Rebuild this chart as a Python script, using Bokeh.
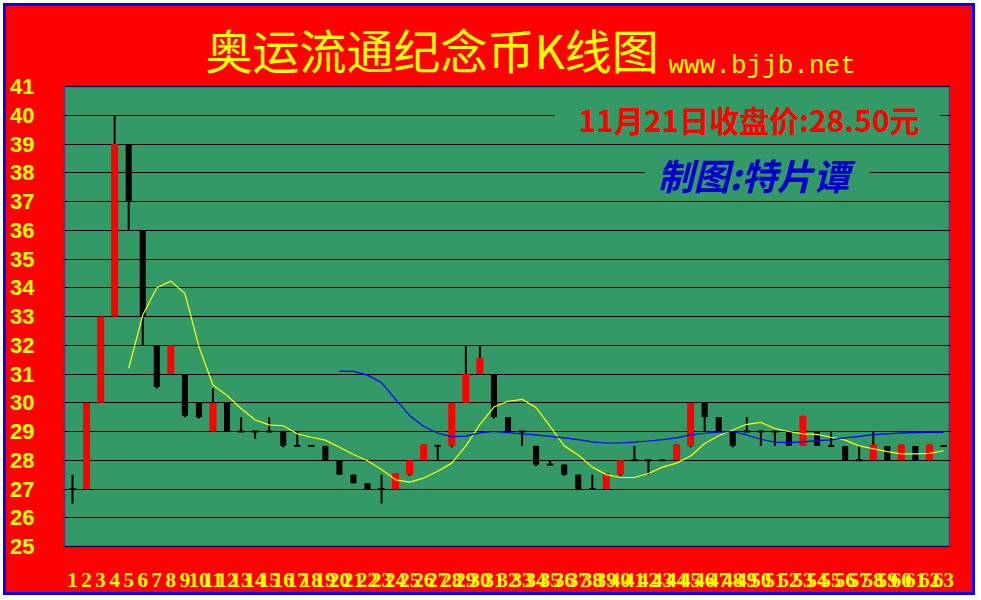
from bokeh.plotting import figure
from bokeh.layouts import column
from bokeh.models import Range1d, FixedTicker, Label, BoxAnnotation, ColumnDataSource
from bokeh.embed import file_html
from bokeh.resources import INLINE

# ---------------- data ----------------
days = list(range(1, 64))
opens = [27, 27, 30, 33, 39, 36, 32, 31, 31, 30,
         29, 30, 29, 29, 29, 29, 28.5, 28.5, 28.5, 28,
         27.5, 27.2, 27, 27, 27.5, 28, 28.5, 28.5, 30, 31,
         31, 29.5, 29, 28.5, 27.85, 27.85, 27.5, 27, 27, 27.5,
         28, 28, 28, 28, 28.5, 30, 29.5, 29, 29, 29,
         29, 29, 28.5, 29, 28.5, 28.5, 28, 28, 28.5, 28,
         28.5, 28, 28.5]
highs = [27.5, 30, 33, 40, 39, 36, 32, 32, 31, 30,
         30.5, 30, 29.5, 29, 29.5, 29, 29, 28.5, 28.5, 28,
         27.5, 27.2, 27.5, 27.55, 28, 28.55, 28.5, 30, 32, 32,
         31, 29.5, 29, 28.5, 28, 27.85, 27.5, 27.5, 27.55, 28,
         28.5, 28, 28, 28.55, 30, 30, 29.5, 29, 29.5, 29,
         29, 29, 29.55, 29, 29, 28.5, 28.5, 29, 28.5, 28.55,
         28.5, 28.55, 28.5]
lows = [26.5, 27, 30, 33, 36, 32, 30.5, 31, 29.5, 29.45,
        29, 29, 29, 28.75, 29, 28.45, 28.5, 28.5, 28, 27.5,
        27.2, 27, 26.5, 27, 27.45, 28, 28, 28.45, 30, 31,
        29.45, 29, 28.5, 27.8, 27.85, 27.45, 27, 27, 27, 27.45,
        28, 27.5, 28, 28, 28.45, 29, 29, 28.45, 29, 28.5,
        28.5, 28.5, 28.5, 28.5, 28.5, 28, 28, 28, 28, 28,
        28, 28, 28.5]
closes = [27, 30, 33, 39, 37, 33, 30.55, 32, 29.55, 29.5,
          30, 29, 29, 29, 29, 28.5, 28.5, 28.5, 28, 27.5,
          27.2, 27, 27, 27.55, 28, 28.55, 28.5, 30, 31, 31.55,
          29.5, 29, 29, 27.85, 27.85, 27.5, 27, 27, 27.55, 28,
          28, 28, 28, 28.55, 30, 29.5, 29, 28.5, 29, 29,
          29, 28.5, 29.55, 28.5, 28.5, 28, 28, 28.55, 28, 28.55,
          28, 28.55, 28.5]

ma_short_days = list(range(5, 64))
ma_short = [31.2, 33.05, 34.0, 34.23, 33.8, 31.95, 30.62, 30.25, 29.8, 29.4,
            29.23, 29.2, 28.92, 28.8, 28.7, 28.45, 28.2, 27.98, 27.68, 27.32,
            27.24, 27.38, 27.62, 27.9, 28.5, 29.25, 29.85, 30.05, 30.12, 29.83,
            29.18, 28.5, 28.18, 27.76, 27.5, 27.4, 27.4, 27.54, 27.76, 27.9,
            28.15, 28.58, 28.85, 29.05, 29.25, 29.32, 29.1, 29.0, 28.92, 28.9,
            28.8, 28.7, 28.5, 28.4, 28.3, 28.22, 28.22, 28.24, 28.33]
ma_long_days = list(range(20, 64))
ma_long = [31.1, 31.09, 30.96, 30.7, 30.12, 29.55, 29.18, 28.94, 28.82, 28.84,
           28.95, 29.0, 28.96, 28.92, 28.88, 28.83, 28.78, 28.72, 28.64, 28.6,
           28.6, 28.63, 28.67, 28.72, 28.78, 28.88, 28.94, 28.98, 29.0, 28.88,
           28.73, 28.63, 28.61, 28.64, 28.68, 28.71, 28.78, 28.83, 28.89, 28.92,
           28.95, 28.96, 28.97, 28.97]

y_ticks = list(range(25, 42))
y_min, y_max = 25, 41
title_text = "奥运流通纪念币K线图"
site_text = "www.bjjb.net"
price_text = "11月21日收盘价:28.50元"
author_text = "制图:特片谭"

GREEN = "#339966"
RED = "#FF0000"
YELLOW = "#FFFF00"
BLUE = "#0000FF"

# ---------------- layout geometry (page pixels) ----------------
ORG = 6                      # content box offset (margin + css border)
W, H = 966, 586              # canvas size
PLOT_L, PLOT_R, PLOT_T, PLOT_B = 64, 949, 86, 546     # green plotting area
FR_L, FR_R, FR_T, FR_B = 63, 950, ORG, 547            # bokeh frame (includes title strip)
PX_PER_DAY = 14.048
PX_PER_UNIT = 28.75


def X(px):
    return 1 + (px - 72) / PX_PER_DAY


def Y(py):
    return y_max - (py - PLOT_T) / PX_PER_UNIT


p = figure(frame_width=FR_R - FR_L, frame_height=FR_B - FR_T,
           x_range=Range1d(X(FR_L), X(FR_R)), y_range=Range1d(Y(FR_B), Y(FR_T)),
           output_backend="svg", toolbar_location=None,
           min_border_left=FR_L - ORG, min_border_right=W - (FR_L - ORG) - (FR_R - FR_L),
           min_border_top=0, min_border_bottom=H - (FR_B - FR_T))
p.background_fill_color = RED
p.border_fill_color = RED
p.outline_line_color = None

# green plot area + blue frame line
p.add_layout(BoxAnnotation(left=X(PLOT_L), right=X(PLOT_R), bottom=y_min, top=y_max,
                           fill_color=GREEN, fill_alpha=1, line_color=None, level="image"))

p.xgrid.visible = False
p.ygrid.ticker = FixedTicker(ticks=y_ticks)
p.ygrid.grid_line_color = "black"
p.ygrid.grid_line_width = 1.2

yax = p.yaxis[0]
yax.ticker = FixedTicker(ticks=y_ticks)
yax.axis_line_color = None
yax.major_tick_line_color = None
yax.minor_tick_line_color = None
yax.major_label_text_color = YELLOW
yax.major_label_text_font = "Liberation Sans"
yax.major_label_text_font_style = "bold"
yax.major_label_text_font_size = "22px"
yax.major_label_standoff = 23

xax = p.xaxis[0]
xax.ticker = FixedTicker(ticks=days)
xax.major_label_overrides = {d: str(d) for d in days}
xax.axis_line_color = None
xax.major_tick_line_color = None
xax.minor_tick_line_color = None
xax.major_label_text_color = YELLOW
xax.major_label_text_font = "Liberation Sans Narrow"
xax.major_label_text_font_style = "bold"
xax.major_label_text_font_size = "21px"
xax.major_label_standoff = 19

# green backgrounds behind the two captions (hide grid lines)
p.add_layout(BoxAnnotation(left=X(554), right=X(940), top=Y(100), bottom=Y(136),
                           fill_color=GREEN, fill_alpha=1, line_color=None, level="glyph"))
p.add_layout(BoxAnnotation(left=X(644), right=X(869), top=Y(152), bottom=Y(194),
                           fill_color=GREEN, fill_alpha=1, line_color=None, level="glyph"))

# candles
up = [c > o for o, c in zip(opens, closes)]
down = [c < o for o, c in zip(opens, closes)]
doji = [c == o for o, c in zip(opens, closes)]

wick = ColumnDataSource(dict(x=days, h=highs, l=lows))
p.segment(x0="x", y0="h", x1="x", y1="l", source=wick, line_color="black", line_width=2)

up_src = ColumnDataSource(dict(
    x=[d for d, f in zip(days, up) if f],
    top=[c for c, f in zip(closes, up) if f],
    bottom=[o for o, f in zip(opens, up) if f]))
p.vbar(x="x", top="top", bottom="bottom", width=0.5, source=up_src,
       fill_color=RED, line_color=None)

dn_src = ColumnDataSource(dict(
    x=[d for d, f in zip(days, down) if f],
    top=[o for o, f in zip(opens, down) if f],
    bottom=[c for c, f in zip(closes, down) if f]))
p.vbar(x="x", top="top", bottom="bottom", width=0.43, source=dn_src,
       fill_color="black", line_color=None)

dj_x = [d for d, f in zip(days, doji) if f]
dj_y = [c for c, f in zip(closes, doji) if f]
dj_src = ColumnDataSource(dict(x0=[d - 0.22 for d in dj_x], x1=[d + 0.22 for d in dj_x], y=dj_y))
p.segment(x0="x0", y0="y", x1="x1", y1="y", source=dj_src, line_color="black", line_width=2)

# moving averages
p.line(ma_short_days, ma_short, line_color=YELLOW, line_width=1.2)
p.line(ma_long_days, ma_long, line_color=BLUE, line_width=1.2)

# blue border of the plotting area
p.add_layout(BoxAnnotation(left=X(PLOT_L), right=X(PLOT_R), bottom=y_min, top=y_max,
                           fill_alpha=0, line_color=BLUE, line_width=2, level="overlay"))

# title strip
p.add_layout(Label(x=X(205), y=Y(48), text=title_text, text_align="left",
                   text_baseline="middle", text_font="Noto Sans CJK SC",
                   text_font_size="47px", text_color=YELLOW))
p.add_layout(Label(x=X(668), y=Y(65), text=site_text, text_align="left",
                   text_baseline="alphabetic", text_font="Liberation Mono",
                   text_font_size="26px", text_color=YELLOW))

# captions inside the plot
p.add_layout(Label(x=X(578), y=Y(118), text=price_text, text_align="left",
                   text_baseline="middle", text_font="Noto Sans CJK SC",
                   text_font_style="bold", text_font_size="30px", text_color=RED))
p.add_layout(Label(x=X(657), y=Y(173), text=author_text, text_align="left",
                   text_baseline="middle", text_font="Noto Sans CJK SC",
                   text_font_style="bold italic", text_font_size="36px", text_color="#0000CC"))

page = column(p, spacing=0,
              styles={"border": "3px solid #0000FF", "margin": "3px", "background-color": RED})

open("out.html", "w").write(file_html(page, INLINE))
